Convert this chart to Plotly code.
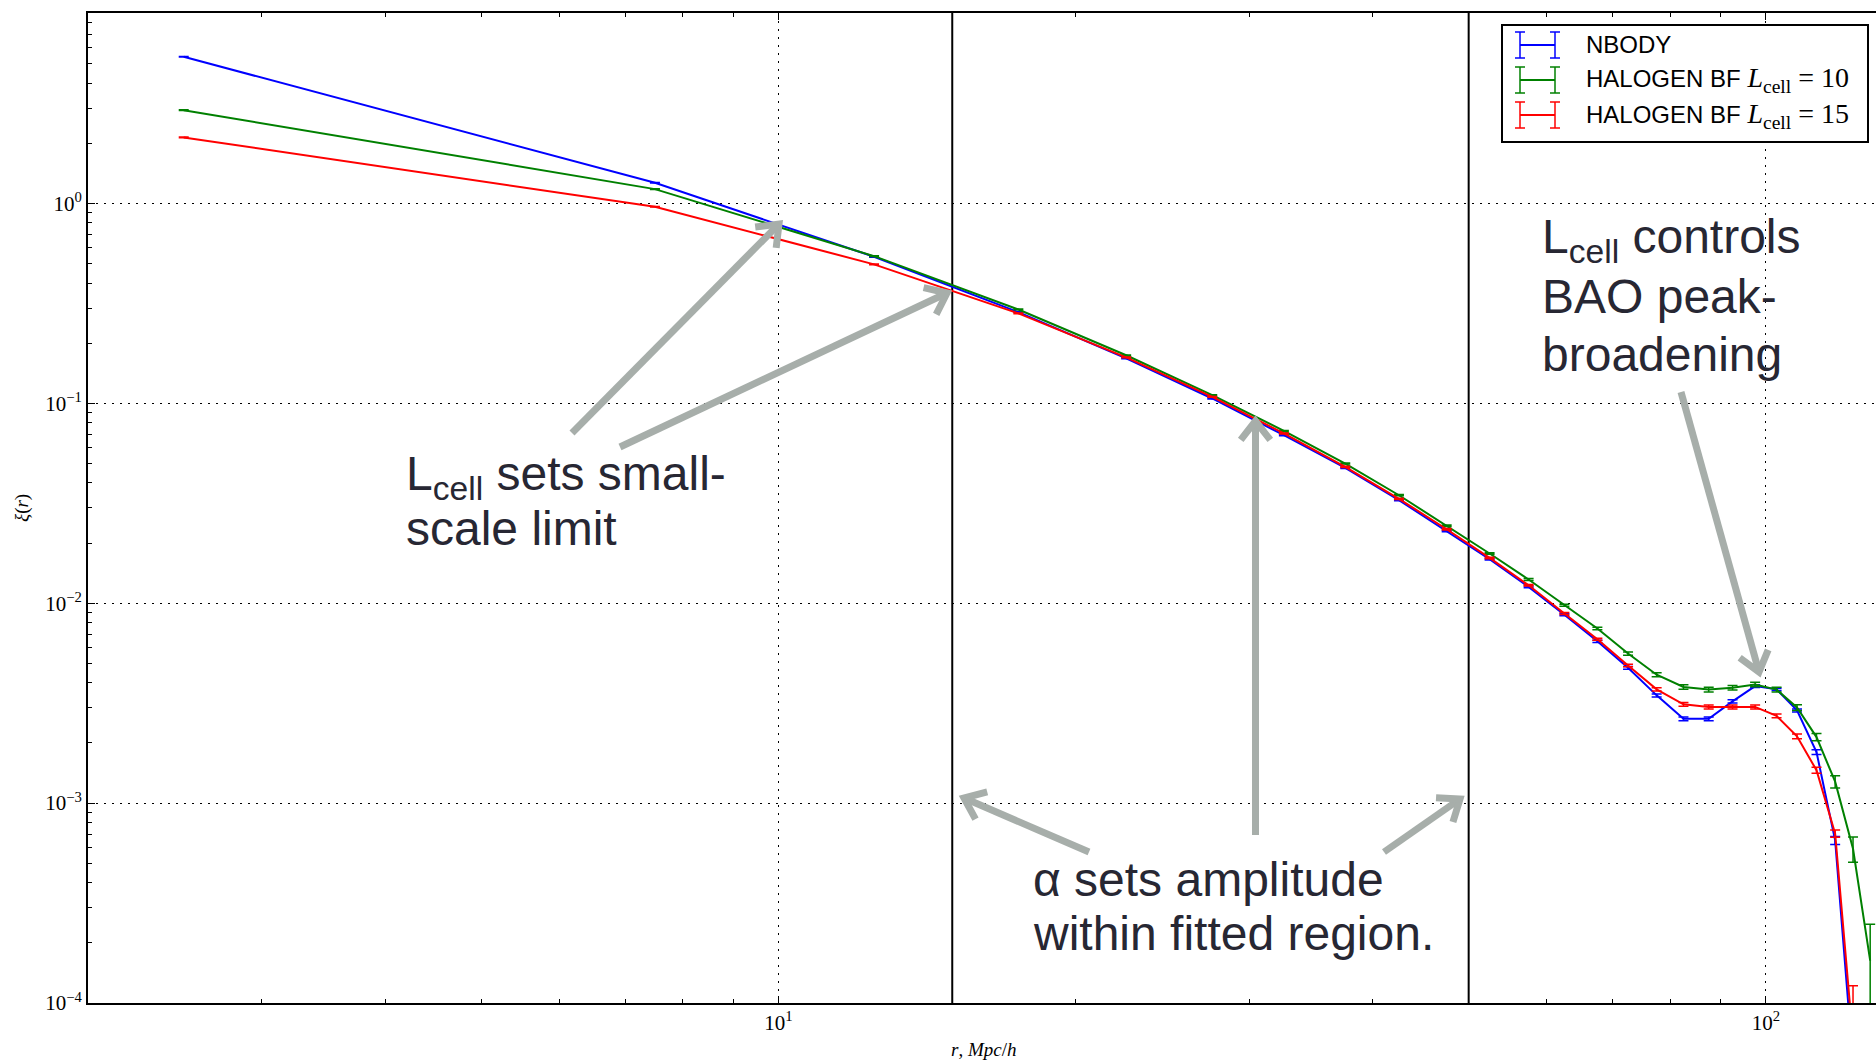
import numpy as np
import plotly.graph_objects as go

# ---------------- data ----------------
r = [2.5, 7.5, 12.5, 17.5, 22.5, 27.5, 32.5, 37.5, 42.5, 47.5, 52.5, 57.5, 62.5,
     67.5, 72.5, 77.5, 82.5, 87.5, 92.5, 97.5, 102.5, 107.5, 112.5, 117.5, 122.5, 127.5]

xi_nbody = [5.42, 1.27, 0.541, 0.286, 0.168, 0.1058, 0.0693, 0.0475, 0.0328, 0.0230,
            0.0166, 0.01207, 0.00877, 0.00645, 0.00475, 0.00346, 0.00264, 0.00264,
            0.00323, 0.00385, 0.00371, 0.00291, 0.00180, 0.000651, 0.00005, None]
err_nbody = [0.01, 0.004, 0.002, 0.0012, 0.0007, 0.0005, 0.0004, 0.0003, 0.00025, 0.0002,
             0.00015, 0.00012, 0.0001, 0.00008, 0.00007, 0.00006, 0.00006, 0.00006,
             0.00006, 0.00006, 0.00005, 0.00005, 0.00005, 0.00003, 0.00002, None]

xi_l10 = [2.93, 1.18, 0.545, 0.295, 0.174, 0.110, 0.0728, 0.0500, 0.0347, 0.0244,
          0.01773, 0.01314, 0.00977, 0.00747, 0.0056, 0.00439, 0.00381, 0.00370,
          0.00378, 0.00392, 0.00370, 0.00301, 0.00214, 0.00128, 0.000591, 0.000163]
err_l10 = [0.01, 0.004, 0.002, 0.0012, 0.0007, 0.0005, 0.0004, 0.0003, 0.00025, 0.0002,
           0.00016, 0.00014, 0.00012, 0.00011, 0.0001, 0.0001, 0.0001, 0.0001,
           0.0001, 0.0001, 0.0001, 0.0001, 0.00009, 0.00009, 0.000085, 0.000085]

xi_l15 = [2.14, 0.963, 0.496, 0.282, 0.170, 0.1078, 0.0707, 0.0481, 0.0333, 0.02346,
          0.01685, 0.01230, 0.00888, 0.0066, 0.00488, 0.00371, 0.00312, 0.00303,
          0.00303, 0.00303, 0.00273, 0.00216, 0.00146, 0.000704, 0.000065, None]
err_l15 = [0.01, 0.004, 0.002, 0.0012, 0.0007, 0.0005, 0.0004, 0.0003, 0.00025, 0.0002,
           0.00015, 0.00012, 0.0001, 0.00008, 0.00007, 0.00007, 0.00007, 0.00007,
           0.00007, 0.00007, 0.00006, 0.00006, 0.00005, 0.00003, 0.000057, None]

fit_edges = [15, 50]

series_names = ["NBODY", "HALOGEN BF", "HALOGEN BF"]
series_math = ["", "<i>L</i><sub>cell</sub> = 10", "<i>L</i><sub>cell</sub> = 15"]
series_colors = ["#0000ff", "#008000", "#ff0000"]

x_ticks = [10, 100]
x_ticktext = ["10<sup>1</sup>", "10<sup>2</sup>"]
y_ticks = [1e-4, 1e-3, 1e-2, 1e-1, 1e0]
y_ticktext = ["10<sup>\u22124</sup>", "10<sup>\u22123</sup>", "10<sup>\u22122</sup>",
              "10<sup>\u22121</sup>", "10<sup>0</sup>"]

# ---------------- layout geometry ----------------
W, H = 1876, 1061
ML, MT, MB, MR = 88, 13, 58, 0
PW, PH = W - ML - MR, H - MT - MB
x_range = [np.log10(2.0), 2.1114]
y_range = [-4.0, 0.953]


def px(x):
    return (x - ML) / PW


def py(y):
    return (MT + PH - y) / PH


fig = go.Figure()

# fitted-region boundaries
for xe in fit_edges:
    fig.add_trace(go.Scatter(x=[xe, xe], y=[1e-6, 1e3], mode="lines",
                             line=dict(color="black", width=2), showlegend=False,
                             hoverinfo="skip"))

for ys, es, nm, col in zip([xi_nbody, xi_l10, xi_l15], [err_nbody, err_l10, err_l15],
                           series_names, series_colors):
    fig.add_trace(go.Scatter(
        x=r, y=ys, mode="lines", name=nm,
        line=dict(color=col, width=2),
        error_y=dict(type="data", array=es, visible=True, color=col,
                     thickness=1.5, width=5),
        showlegend=False, connectgaps=False))

shapes = []
annotations = []

# ---------------- legend (manual, errorbar-style symbols) ----------------
lx0, ly0, lx1, ly1 = 1502, 25, 1868, 142
shapes.append(dict(type="rect", xref="paper", yref="paper",
                   x0=px(lx0), x1=px(lx1), y0=py(ly1), y1=py(ly0),
                   line=dict(color="black", width=2), fillcolor="white", layer="above"))
rows = [45, 80, 115]
for yc, nm, mth, col in zip(rows, series_names, series_math, series_colors):
    xa, xb = 1520, 1555
    shapes.append(dict(type="line", xref="paper", yref="paper", x0=px(xa), x1=px(xb),
                       y0=py(yc), y1=py(yc), line=dict(color=col, width=2), layer="above"))
    for xe in (xa, xb):
        shapes.append(dict(type="line", xref="paper", yref="paper", x0=px(xe), x1=px(xe),
                           y0=py(yc - 13), y1=py(yc + 13), line=dict(color=col, width=1.5),
                           layer="above"))
        for ye in (yc - 13, yc + 13):
            shapes.append(dict(type="line", xref="paper", yref="paper", x0=px(xe - 5),
                               x1=px(xe + 5), y0=py(ye), y1=py(ye),
                               line=dict(color=col, width=1.5), layer="above"))
    label = nm
    if mth:
        label += (" <span style=\"font-family:'Liberation Serif';font-size:28px\">"
                  + mth.replace(" = ", " = ") + "</span>")
    annotations.append(dict(xref="paper", yref="paper", x=px(1584), y=py(yc),
                            xanchor="left", yanchor="middle", showarrow=False,
                            text=label,
                            font=dict(family="Liberation Sans, Arial", size=24, color="black")))

# ---------------- arrows ----------------
arrow_col = "#a7aeaa"


def arrow(x0, y0, x1, y1, head=24, ang=38):
    shapes.append(dict(type="line", xref="paper", yref="paper",
                       x0=px(x0), y0=py(y0), x1=px(x1), y1=py(y1),
                       line=dict(color=arrow_col, width=7), layer="above"))
    u = np.array([x0 - x1, y0 - y1], dtype=float)
    u /= np.linalg.norm(u)
    pts = []
    for s in (1, -1):
        a = np.deg2rad(ang * s)
        rot = np.array([[np.cos(a), -np.sin(a)], [np.sin(a), np.cos(a)]])
        v = rot @ u
        pts.append((x1 + head * v[0], y1 + head * v[1]))
    path = "M {:.5f},{:.5f} L {:.5f},{:.5f} L {:.5f},{:.5f}".format(
        px(pts[0][0]), py(pts[0][1]), px(x1), py(y1), px(pts[1][0]), py(pts[1][1]))
    shapes.append(dict(type="path", xref="paper", yref="paper", path=path,
                       line=dict(color=arrow_col, width=7), layer="above"))


arrow(572, 433, 779, 224)
arrow(620, 447, 947, 293)
arrow(1255.5, 835, 1255.5, 421)
arrow(1089, 852, 964, 798)
arrow(1384, 852, 1460, 799)
arrow(1681, 392, 1759, 672)

# ---------------- text annotations ----------------
tcol = "#272733"
tfont = dict(family="Liberation Sans, Arial", size=48, color=tcol)
text_lines = [
    (404, 477, "L<sub>cell</sub> sets small-"),
    (404, 528, "scale limit"),
    (1540, 240, "L<sub>cell</sub> controls"),
    (1540, 297, "BAO peak-"),
    (1540, 354, "broadening"),
    (1031, 879, "\u03b1 sets amplitude"),
    (1031, 933, "within fitted region."),
]
for x, y, t in text_lines:
    annotations.append(dict(xref="paper", yref="paper", x=px(x), y=py(y), xanchor="left",
                            yanchor="middle", showarrow=False, text=t, font=tfont))

# axis titles
afont = dict(family="Liberation Serif, Times New Roman", size=19, color="black")
annotations.append(dict(xref="paper", yref="paper", x=px(983), y=py(1049), showarrow=False,
                        text="<i>r</i>, <i>Mpc</i>/<i>h</i>", font=afont,
                        xanchor="center", yanchor="middle"))
annotations.append(dict(xref="paper", yref="paper", x=px(22), y=py(508), showarrow=False,
                        text="<i>\u03be</i>(<i>r</i>)", font=afont, textangle=-90,
                        xanchor="center", yanchor="middle"))

x_minor = [v * d for d in (1, 10, 100) for v in range(2, 10) if 2 <= v * d <= 129]
x_minor = [v for v in x_minor if v not in (10, 100)]
y_minor = [v * 10.0 ** e for e in range(-4, 1) for v in range(2, 10)]

tickfont = dict(family="Liberation Serif, Times New Roman", size=21, color="black")

fig.update_layout(
    width=W, height=H,
    margin=dict(l=ML, r=MR, t=MT, b=MB, pad=0),
    paper_bgcolor="white", plot_bgcolor="white",
    showlegend=False,
    shapes=shapes, annotations=annotations,
    xaxis=dict(type="log", range=x_range, tickmode="array", tickvals=x_ticks,
               ticktext=x_ticktext, ticks="inside", ticklen=7, tickwidth=1,
               tickcolor="black", showline=True, linecolor="black", linewidth=2,
               mirror="allticks", showgrid=True, gridcolor="black", gridwidth=1,
               griddash="2px,6px", tickfont=tickfont, zeroline=False,
               minor=dict(tickmode="array", tickvals=x_minor, ticks="inside",
                          ticklen=4, tickwidth=1, tickcolor="black", showgrid=False)),
    yaxis=dict(type="log", range=y_range, tickmode="array", tickvals=y_ticks,
               ticktext=y_ticktext, ticks="inside", ticklen=7, tickwidth=1,
               tickcolor="black", showline=True, linecolor="black", linewidth=2,
               mirror=False, showgrid=True, gridcolor="black", gridwidth=1,
               griddash="2px,6px", tickfont=tickfont, zeroline=False,
               minor=dict(tickmode="array", tickvals=y_minor, ticks="inside",
                          ticklen=4, tickwidth=1, tickcolor="black", showgrid=False)),
)

fig.write_html("out.html")
